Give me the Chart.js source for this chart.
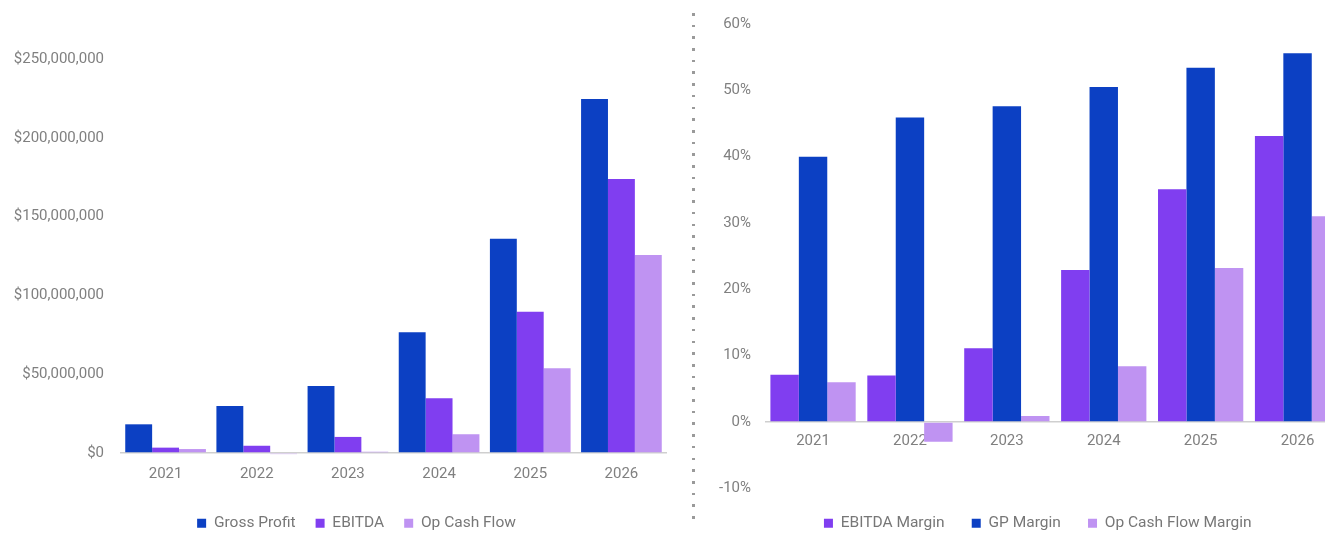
<!DOCTYPE html>
<html><head><meta charset="utf-8">
<script src="https://cdn.jsdelivr.net/npm/chart.js@4.4.1/dist/chart.umd.min.js"></script>
<style>
html,body{margin:0;padding:0;width:1325px;height:534px;overflow:hidden;background:#fff;}
#c1{position:absolute;left:0;top:0;width:690px;height:541px;}
#c2{position:absolute;left:700px;top:0;width:646px;height:541px;}
#sep{position:absolute;left:692px;top:13px;width:3px;height:512px;background:repeating-linear-gradient(to bottom,#9a9a9a 0 2.6px,transparent 2.6px 11.7px);}
</style></head><body>
<canvas id="c1" width="690" height="541"></canvas>
<div id="sep"></div>
<canvas id="c2" width="646" height="541"></canvas>
<script>
// ---- data ----
const years = ['2021', '2022', '2023', '2024', '2025', '2026'];
const grossProfit = [18200000, 29800000, 42500000, 76600000, 136000000, 224600000];
const ebitda = [3400000, 4600000, 10200000, 34700000, 89700000, 173900000];
const opCashFlow = [2500000, -700000, 800000, 11900000, 53700000, 125600000];
const ebitdaMargin = [7.1, 7.0, 11.1, 22.9, 35.1, 43.1];
const gpMargin = [40.0, 45.9, 47.6, 50.5, 53.4, 55.6];
const opCashFlowMargin = [6.0, -3.0, 0.9, 8.4, 23.2, 31.0];
const dollarTicks = [0, 50000000, 100000000, 150000000, 200000000, 250000000];
const percentTicks = [-10, 0, 10, 20, 30, 40, 50, 60];

const BLUE = '#0c40c3';
const PURPLE = '#803ef0';
const LILAC = '#bf93f2';
const TXT = '#808080';
const FONT = 'Roboto';

const zeroGrid = ctx => (ctx.tick && ctx.tick.value === 0) ? '#cfcfcf' : 'rgba(0,0,0,0)';

// shifts the legend horizontally (legend only, no marks)
const legendShift = {
  id: 'legendShift',
  afterLayout(chart, args, opts) {
    const d = opts.dx || 0;
    if (chart.legend) { chart.legend.left += d; chart.legend.right += d; }
  }
};

new Chart(document.getElementById('c1'), {
  type: 'bar',
  data: {
    labels: years,
    datasets: [
      {label: 'Gross Profit', data: grossProfit, backgroundColor: BLUE},
      {label: 'EBITDA', data: ebitda, backgroundColor: PURPLE},
      {label: 'Op Cash Flow', data: opCashFlow, backgroundColor: LILAC}
    ]
  },
  plugins: [legendShift],
  options: {
    responsive: false, animation: false, devicePixelRatio: 1,
    layout: {padding: {top: 59, left: 4, right: 23, bottom: 0}},
    datasets: {bar: {categoryPercentage: 0.885, barPercentage: 1, borderWidth: 0, clip: false}},
    plugins: {
      legendShift: {dx: 21},
      legend: {position: 'bottom', labels: {boxWidth: 9, boxHeight: 9, padding: 20, color: '#777', font: {family: FONT, size: 15.5}}},
      tooltip: {enabled: false}
    },
    scales: {
      x: {
        grid: {display: false, drawTicks: false}, border: {display: false},
        ticks: {color: TXT, font: {family: FONT, size: 15}, padding: 12, maxRotation: 0, autoSkip: false},
        afterFit(s) { s.height = 42.5; }
      },
      y: {
        min: dollarTicks[0], max: dollarTicks[dollarTicks.length - 1],
        grid: {color: zeroGrid, lineWidth: 1.5, drawTicks: false}, border: {display: false},
        afterBuildTicks(s) { s.ticks = dollarTicks.map(v => ({value: v})); },
        ticks: {padding: 16, color: TXT, font: {family: FONT, size: 15},
          callback: v => '$' + Number(v).toLocaleString('en-US')},
        afterFit(s) { s.width = 116; }
      }
    }
  }
});

new Chart(document.getElementById('c2'), {
  type: 'bar',
  data: {
    labels: years,
    datasets: [
      {label: 'EBITDA Margin', data: ebitdaMargin, backgroundColor: PURPLE},
      {label: 'GP Margin', data: gpMargin, backgroundColor: BLUE},
      {label: 'Op Cash Flow Margin', data: opCashFlowMargin, backgroundColor: LILAC}
    ]
  },
  plugins: [legendShift],
  options: {
    responsive: false, animation: false, devicePixelRatio: 1,
    layout: {padding: {top: 24, left: 4, right: 0, bottom: 0}},
    datasets: {bar: {categoryPercentage: 0.88, barPercentage: 1, borderWidth: 0}},
    plugins: {
      legendShift: {dx: 12.8},
      legend: {position: 'bottom', labels: {boxWidth: 9, boxHeight: 9, padding: 27.25, color: '#777', font: {family: FONT, size: 15.5}}},
      tooltip: {enabled: false}
    },
    scales: {
      x: {
        position: {y: 0},
        grid: {display: false, drawTicks: false}, border: {display: false},
        ticks: {color: TXT, font: {family: FONT, size: 15}, padding: 10, maxRotation: 0, autoSkip: false}
      },
      y: {
        min: percentTicks[0], max: percentTicks[percentTicks.length - 1],
        grid: {color: zeroGrid, lineWidth: 1.5, drawTicks: false}, border: {display: false},
        afterBuildTicks(s) { s.ticks = percentTicks.map(v => ({value: v})); },
        ticks: {padding: 13.6, color: TXT, font: {family: FONT, size: 15}, callback: v => v + '%'},
        afterFit(s) { s.width = 60.6; }
      }
    }
  }
});
</script>
</body></html>
